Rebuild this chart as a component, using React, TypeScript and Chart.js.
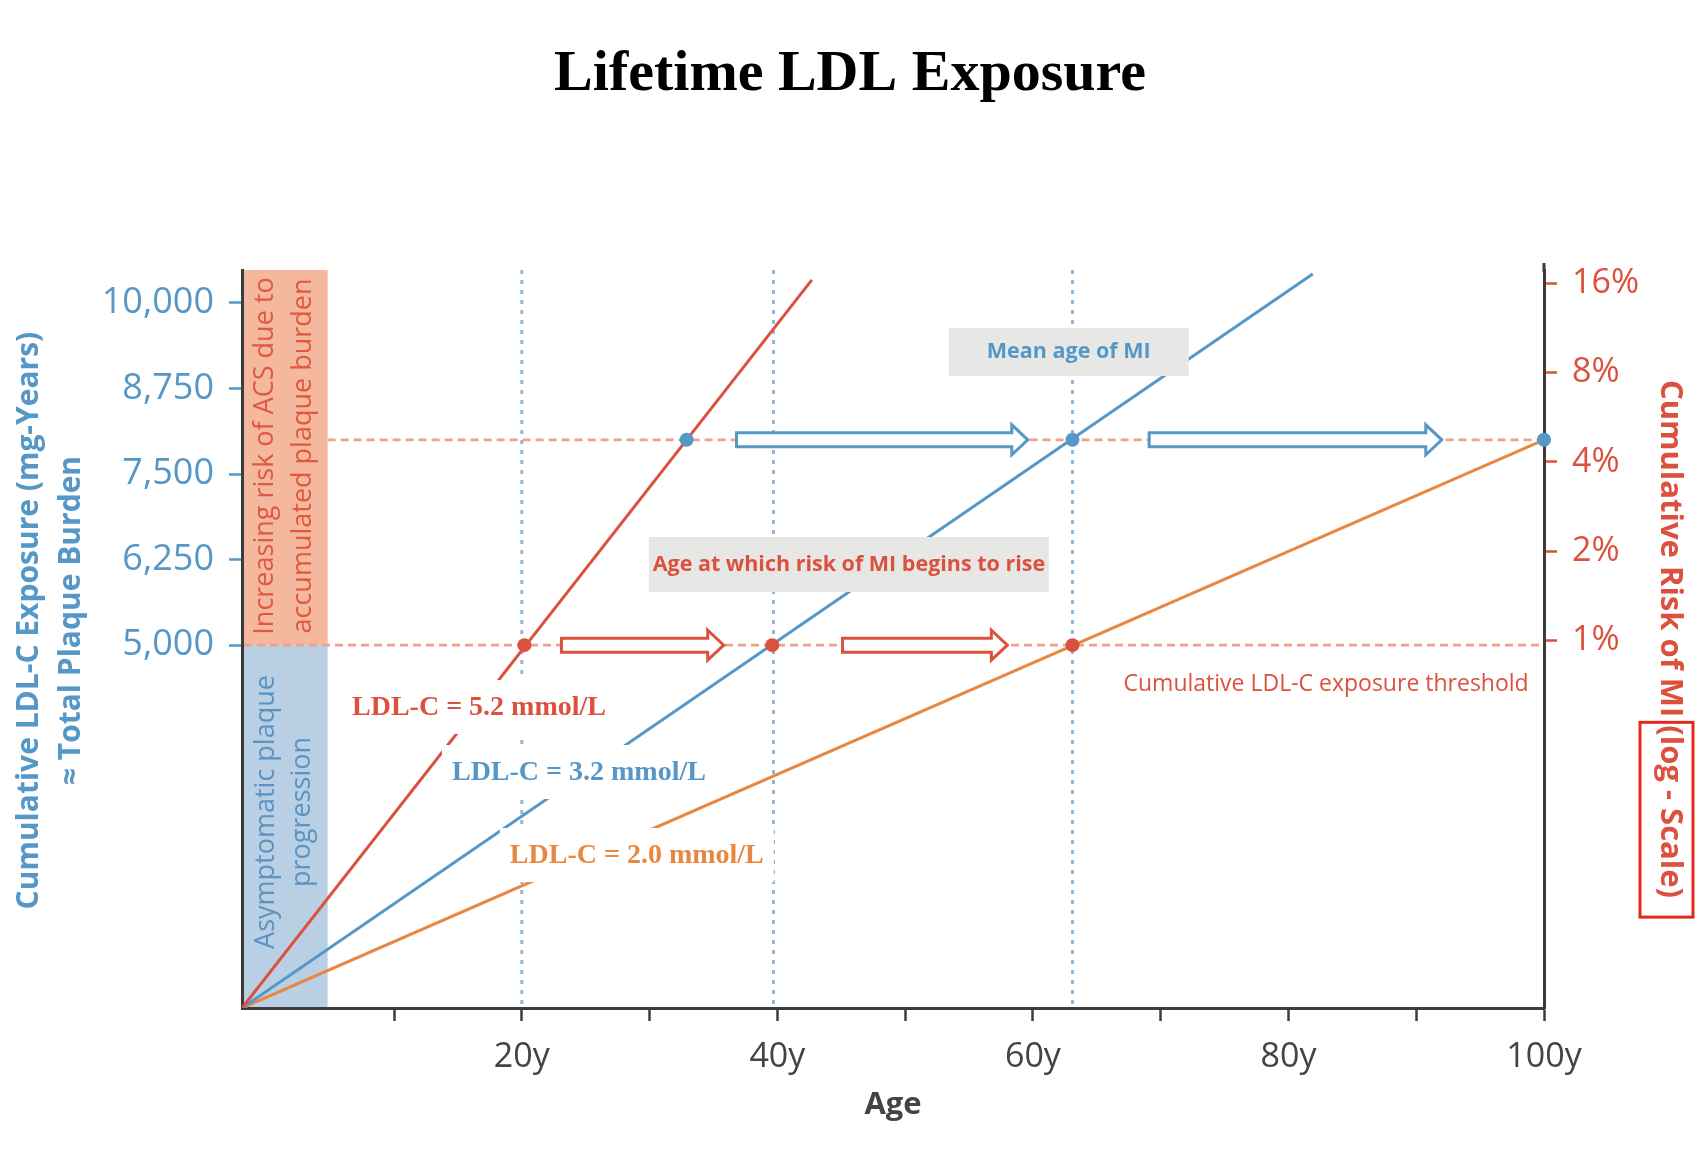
import React, { useEffect, useRef } from 'react';
import { Chart, registerables } from 'chart.js';

Chart.register(...registerables);

// ---------------- data ----------------
const AGE_MIN = -1.9;
const AGE_MAX = 100;
const EXPOSURE_MIN = -300;
const EXPOSURE_MAX = 10480;
const RISK_MIN = 0.058;
const RISK_MAX = 17.7;

const AGE_TICKS = [10, 20, 30, 40, 50, 60, 70, 80, 90, 100];
const AGE_LABELLED = [20, 40, 60, 80, 100];
const EXPOSURE_TICKS = [5000, 6250, 7500, 8750, 10000];
const RISK_TICKS = [1, 2, 4, 8, 16];

const LDL_52_AGES = [-1.9, 42.7];
const LDL_52_EXPOSURE = [-300, 10336];
const LDL_32_AGES = [-1.9, 81.9];
const LDL_32_EXPOSURE = [-300, 10420];
const LDL_20_AGES = [-1.9, 100];
const LDL_20_EXPOSURE = [-300, 8000];

const THRESHOLD_EXPOSURE = 5000;
const MI_EXPOSURE = 8000;
const RISE_AGES = [20.2, 39.6, 63.1];
const MI_AGES = [32.9, 63.1, 100];
const GUIDE_AGES = [20, 39.7, 63.1];
const RISE_ARROWS = [
  [23.1, 35.8],
  [45.1, 58.0],
];
const MI_ARROWS = [
  [36.8, 59.6],
  [69.1, 92.0],
];
const BAND_END_AGE = 4.8;

// ---------------- styles ----------------
const BLUE = '#5597c7';
const RED = '#dc513d';
const ORANGE = '#e8873f';
const SALMON_FILL = '#f4b89e';
const BLUE_FILL = '#b8cfe4';
const DASH_COLOR = '#eea28a';
const GUIDE_COLOR = '#8fb6db';
const AXIS_COLOR = '#3c3c3c';
const SANS = '"Open Sans", "Noto Sans", sans-serif';
const SERIF = '"Liberation Serif", "Times New Roman", serif';

const LINE_LABELS = [
  { text: 'LDL-C = 5.2 mmol/L', age: 16.65, exposure: 4097, color: RED },
  { text: 'LDL-C = 3.2 mmol/L', age: 24.47, exposure: 3147, color: BLUE },
  { text: 'LDL-C = 2.0 mmol/L', age: 29.0, exposure: 1935, color: ORANGE },
];

const GRAY_BOXES = [
  { text: 'Mean age of MI', age: 62.8, exposure: 9282, w: 240, h: 48, color: BLUE },
  { text: 'Age at which risk of MI begins to rise', age: 45.6, exposure: 6178, w: 400, h: 55, color: RED },
];

const toPoints = (xs: number[], ys: number[]) => xs.map((x, i) => ({ x, y: ys[i] }));

function drawArrow(ctx: CanvasRenderingContext2D, x0: number, x1: number, y: number, color: string) {
  const h = 7;
  const H = 15;
  const L = 16;
  ctx.beginPath();
  ctx.moveTo(x0, y - h);
  ctx.lineTo(x1 - L, y - h);
  ctx.lineTo(x1 - L, y - H);
  ctx.lineTo(x1, y);
  ctx.lineTo(x1 - L, y + H);
  ctx.lineTo(x1 - L, y + h);
  ctx.lineTo(x0, y + h);
  ctx.closePath();
  ctx.fillStyle = '#ffffff';
  ctx.fill();
  ctx.lineWidth = 3;
  ctx.lineJoin = 'miter';
  ctx.strokeStyle = color;
  ctx.stroke();
}

function rotatedLines(
  ctx: CanvasRenderingContext2D,
  lines: string[],
  cx: number,
  cy: number,
  spacing: number,
  angle: number,
  font: string,
  color: string
) {
  ctx.save();
  ctx.font = font;
  ctx.fillStyle = color;
  ctx.textAlign = 'center';
  ctx.textBaseline = 'middle';
  lines.forEach((t, i) => {
    const off = (i - (lines.length - 1) / 2) * spacing;
    ctx.save();
    ctx.translate(cx + off, cy);
    ctx.rotate(angle);
    ctx.fillText(t, 0, 0);
    ctx.restore();
  });
  ctx.restore();
}

const overlayPlugin = {
  id: 'ldlOverlay',
  beforeDraw(chart: any) {
    const { ctx, chartArea: ca, scales } = chart;
    const x = scales.x;
    const y = scales.y;
    const xb = x.getPixelForValue(BAND_END_AGE);
    const yt = y.getPixelForValue(THRESHOLD_EXPOSURE);
    ctx.save();
    ctx.fillStyle = SALMON_FILL;
    ctx.fillRect(ca.left, ca.top, xb - ca.left, yt - ca.top);
    ctx.fillStyle = BLUE_FILL;
    ctx.fillRect(ca.left, yt, xb - ca.left, ca.bottom - yt);
    ctx.restore();
    const bandCx = (ca.left + xb) / 2;
    rotatedLines(
      ctx,
      ['Increasing risk of ACS due to', 'accumulated plaque burden'],
      bandCx,
      y.getPixelForValue(7763),
      38,
      -Math.PI / 2,
      `27px ${SANS}`,
      '#e0583f'
    );
    rotatedLines(
      ctx,
      ['Asymptomatic plaque', 'progression'],
      bandCx,
      y.getPixelForValue(2563),
      36,
      -Math.PI / 2,
      `27px ${SANS}`,
      '#5a93c4'
    );
  },
  beforeDatasetsDraw(chart: any) {
    const { ctx, chartArea: ca, scales } = chart;
    const x = scales.x;
    const y = scales.y;
    ctx.save();
    // vertical dotted guides
    ctx.strokeStyle = GUIDE_COLOR;
    ctx.lineWidth = 3;
    ctx.setLineDash([4, 6]);
    GUIDE_AGES.forEach((a) => {
      const px = x.getPixelForValue(a);
      ctx.beginPath();
      ctx.moveTo(px, ca.top);
      ctx.lineTo(px, ca.bottom - 2);
      ctx.stroke();
    });
    // horizontal dashed thresholds
    ctx.strokeStyle = DASH_COLOR;
    ctx.lineWidth = 2.7;
    ctx.setLineDash([8, 5]);
    const yt = y.getPixelForValue(THRESHOLD_EXPOSURE);
    ctx.beginPath();
    ctx.moveTo(ca.left + 2, yt);
    ctx.lineTo(ca.right, yt);
    ctx.stroke();
    const ym = y.getPixelForValue(MI_EXPOSURE);
    ctx.beginPath();
    ctx.moveTo(x.getPixelForValue(BAND_END_AGE), ym);
    ctx.lineTo(ca.right, ym);
    ctx.stroke();
    ctx.restore();
  },
  afterDatasetsDraw(chart: any) {
    const { ctx, scales } = chart;
    const x = scales.x;
    const y = scales.y;
    ctx.save();
    // arrows
    const yt = y.getPixelForValue(THRESHOLD_EXPOSURE);
    const ym = y.getPixelForValue(MI_EXPOSURE);
    RISE_ARROWS.forEach(([a0, a1]) => drawArrow(ctx, x.getPixelForValue(a0), x.getPixelForValue(a1), yt, RED));
    MI_ARROWS.forEach(([a0, a1]) => drawArrow(ctx, x.getPixelForValue(a0), x.getPixelForValue(a1), ym, BLUE));

    // line labels on white boxes
    ctx.font = `bold 28px ${SERIF}`;
    ctx.textAlign = 'center';
    ctx.textBaseline = 'middle';
    LINE_LABELS.forEach((l) => {
      const px = x.getPixelForValue(l.age);
      const py = y.getPixelForValue(l.exposure);
      const w = ctx.measureText(l.text).width + 20;
      ctx.fillStyle = '#ffffff';
      ctx.fillRect(px - w / 2, py - 27, w, 54);
      ctx.fillStyle = l.color;
      ctx.fillText(l.text, px, py + 1);
    });

    // gray boxes
    ctx.font = `bold 21.5px ${SANS}`;
    GRAY_BOXES.forEach((b) => {
      const px = x.getPixelForValue(b.age);
      const py = y.getPixelForValue(b.exposure);
      ctx.fillStyle = '#e7e7e6';
      ctx.fillRect(px - b.w / 2, py - b.h / 2, b.w, b.h);
      ctx.fillStyle = b.color;
      ctx.fillText(b.text, px, py);
    });

    // threshold note
    ctx.font = `23px ${SANS}`;
    ctx.fillStyle = RED;
    ctx.textAlign = 'right';
    ctx.fillText('Cumulative LDL-C exposure threshold', x.getPixelForValue(98.8), y.getPixelForValue(4433));
    ctx.restore();
  },
  afterDraw(chart: any) {
    const { ctx, chartArea: ca } = chart;
    ctx.save();
    // right axis extends a little above the plot
    ctx.strokeStyle = AXIS_COLOR;
    ctx.lineWidth = 3;
    ctx.beginPath();
    ctx.moveTo(ca.right, ca.top - 7);
    ctx.lineTo(ca.right, ca.top + 2);
    ctx.stroke();

    // left axis title (two lines)
    const midL = ca.top + (ca.bottom - ca.top) * 0.475;
    rotatedLines(
      ctx,
      ['Cumulative LDL-C Exposure (mg-Years)', '\u2248 Total Plaque Burden'],
      ca.left - 192,
      midL,
      42,
      -Math.PI / 2,
      `bold 30px ${SANS}`,
      BLUE
    );

    // right axis title with boxed part
    const prefix = 'Cumulative Risk of MI ';
    const boxed = '(log - Scale)';
    ctx.font = `bold 31px ${SANS}`;
    const wp = ctx.measureText(prefix).width;
    const wb = ctx.measureText(boxed).width;
    const total = wp + wb;
    const cx = ca.right + 126;
    const cy = (ca.top + ca.bottom) / 2;
    const start = cy - total / 2;
    ctx.save();
    ctx.translate(cx, start);
    ctx.rotate(Math.PI / 2);
    ctx.fillStyle = RED;
    ctx.textAlign = 'left';
    ctx.textBaseline = 'middle';
    ctx.fillText(prefix + boxed, 0, 0);
    ctx.restore();
    ctx.strokeStyle = '#e02a1b';
    ctx.lineWidth = 3;
    ctx.strokeRect(cx - 30, start + wp - 3, 53, wb + 22);
    ctx.restore();
  },
};

export default function App() {
  const canvasRef = useRef<HTMLCanvasElement | null>(null);

  useEffect(() => {
    const canvas = canvasRef.current;
    if (!canvas) return;
    const chart = new Chart(canvas, {
      type: 'line',
      data: {
        datasets: [
          {
            label: 'LDL-C = 5.2 mmol/L',
            data: toPoints(LDL_52_AGES, LDL_52_EXPOSURE),
            borderColor: RED,
            borderWidth: 3,
            pointRadius: 0,
            order: 2,
          },
          {
            label: 'LDL-C = 3.2 mmol/L',
            data: toPoints(LDL_32_AGES, LDL_32_EXPOSURE),
            borderColor: BLUE,
            borderWidth: 3,
            pointRadius: 0,
            order: 2,
          },
          {
            label: 'LDL-C = 2.0 mmol/L',
            data: toPoints(LDL_20_AGES, LDL_20_EXPOSURE),
            borderColor: ORANGE,
            borderWidth: 3,
            pointRadius: 0,
            order: 2,
          },
          {
            label: 'Risk begins to rise',
            data: RISE_AGES.map((a) => ({ x: a, y: THRESHOLD_EXPOSURE })),
            showLine: false,
            pointRadius: 7,
            pointBorderWidth: 0,
            pointBackgroundColor: RED,
            borderColor: RED,
            clip: false,
            order: 0,
          },
          {
            label: 'Mean age of MI',
            data: MI_AGES.map((a) => ({ x: a, y: MI_EXPOSURE })),
            showLine: false,
            pointRadius: 7,
            pointBorderWidth: 0,
            pointBackgroundColor: BLUE,
            borderColor: BLUE,
            clip: false,
            order: 0,
          },
        ] as any,
      },
      options: {
        animation: false,
        responsive: false,
        maintainAspectRatio: false,
        devicePixelRatio: 1,
        events: [],
        layout: { padding: 0 },
        plugins: {
          legend: { display: false },
          tooltip: { enabled: false },
          title: {
            display: true,
            text: 'Lifetime LDL Exposure',
            color: '#000000',
            font: { family: SERIF, size: 58, weight: 'bold', lineHeight: 1.2 },
            padding: { top: 40, bottom: 160.4 },
          },
        },
        scales: {
          x: {
            type: 'linear',
            position: 'bottom',
            min: AGE_MIN,
            max: AGE_MAX,
            afterBuildTicks: (s: any) => {
              s.ticks = AGE_TICKS.map((v) => ({ value: v }));
            },
            afterFit: (s: any) => {
              s.height = 162;
            },
            ticks: {
              autoSkip: false,
              maxRotation: 0,
              padding: 16,
              color: '#444444',
              font: { family: SANS, size: 34 },
              callback: (v: any) => (AGE_LABELLED.includes(Number(v)) ? `${v}y` : ''),
            },
            grid: {
              drawOnChartArea: false,
              drawTicks: true,
              tickLength: 13,
              tickColor: AXIS_COLOR,
              tickWidth: 2.5,
              color: AXIS_COLOR,
            },
            border: { display: true, color: AXIS_COLOR, width: 3 },
            title: {
              display: true,
              text: 'Age',
              color: '#444444',
              font: { family: SANS, size: 31, weight: 'bold', lineHeight: 1.2 },
              padding: { top: 0, bottom: 46 },
            },
          },
          y: {
            type: 'linear',
            position: 'left',
            min: EXPOSURE_MIN,
            max: EXPOSURE_MAX,
            afterBuildTicks: (s: any) => {
              s.ticks = EXPOSURE_TICKS.map((v) => ({ value: v }));
            },
            afterFit: (s: any) => {
              s.width = 242;
            },
            ticks: {
              padding: 15,
              color: BLUE,
              font: { family: SANS, size: 36 },
              callback: (v: any) => Number(v).toLocaleString('en-US'),
            },
            grid: {
              drawOnChartArea: false,
              drawTicks: true,
              tickLength: 13,
              tickColor: BLUE,
              tickWidth: 2.5,
              color: BLUE,
            },
            border: { display: true, color: AXIS_COLOR, width: 3 },
          },
          risk: {
            type: 'logarithmic',
            position: 'right',
            min: RISK_MIN,
            max: RISK_MAX,
            afterBuildTicks: (s: any) => {
              s.ticks = RISK_TICKS.map((v) => ({ value: v, major: false }));
            },
            afterFit: (s: any) => {
              s.width = 156;
            },
            ticks: {
              padding: 15,
              color: RED,
              font: { family: SANS, size: 34 },
              callback: (v: any) => `${v}%`,
            },
            grid: {
              drawOnChartArea: false,
              drawTicks: true,
              tickLength: 13,
              tickColor: RED,
              tickWidth: 2.5,
              color: RED,
            },
            border: { display: true, color: AXIS_COLOR, width: 3 },
          },
        },
      } as any,
      plugins: [overlayPlugin],
    });
    return () => {
      chart.destroy();
    };
  }, []);

  return (
    <div style={{ position: 'absolute', left: 0, top: 0, width: 1700, height: 1170, background: '#ffffff' }}>
      <canvas ref={canvasRef} width={1700} height={1170} style={{ display: 'block', width: 1700, height: 1170 }} />
    </div>
  );
}
